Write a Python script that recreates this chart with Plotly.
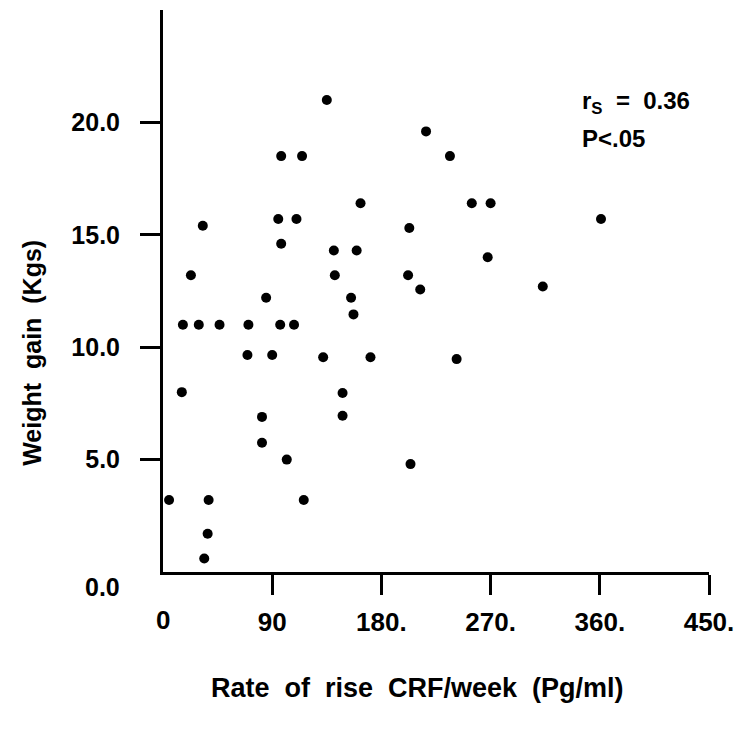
import plotly.graph_objects as go

# Data
crf_rate = [5, 37.6, 36.8, 34, 102, 116,
            23, 141.6, 85, 155,
            16.4, 29.5, 46.6, 70.4, 96.6, 108,
            69.6, 90, 132, 15.5, 148, 81.6, 148, 81.6,
            135, 97.4, 114.6, 32.8, 95, 110, 97.4, 140.8,
            216.8, 236.5, 162.8, 254.5, 270, 203, 159.6, 267.6,
            202, 212, 157, 171, 242, 204, 361, 313]
weight_gain = [3.2, 3.2, 1.7, 0.6, 5.0, 3.2,
               13.2, 13.2, 12.2, 12.2,
               11.0, 11.0, 11.0, 11.0, 11.0, 11.0,
               9.65, 9.65, 9.55, 8.0, 7.96, 6.9, 6.95, 5.75,
               21.0, 18.5, 18.5, 15.4, 15.7, 15.7, 14.6, 14.3,
               19.6, 18.5, 16.4, 16.4, 16.4, 15.3, 14.3, 14.0,
               13.2, 12.57, 11.46, 9.55, 9.47, 4.8, 15.7, 12.7]

x_tickvals = [90, 180, 270, 360, 450]
x_ticktext = ["90", "180.", "270.", "360.", "450."]
y_tickvals = [5, 10, 15, 20]
y_ticktext = ["5.0", "10.0", "15.0", "20.0"]
x_zero_label = "0"
y_zero_label = "0.0"
x_title = "Rate\u00a0\u00a0of\u00a0\u00a0rise\u00a0\u00a0CRF/week\u00a0\u00a0(Pg/ml)"
y_title = "Weight\u00a0\u00a0gain\u00a0\u00a0(Kgs)"
stat_r = "r<sub>S</sub>\u00a0\u00a0=\u00a0\u00a00.36"
stat_p = "P&lt;.05"

FONT = "Liberation Sans"

fig = go.Figure()
fig.add_trace(go.Scatter(
    x=crf_rate, y=weight_gain, mode="markers",
    marker=dict(size=10, color="black", line=dict(width=0)),
    showlegend=False, hoverinfo="skip"))

axis_common = dict(
    showline=True, linecolor="black", linewidth=3,
    ticks="outside", ticklen=20, tickwidth=3, tickcolor="black",
    showgrid=False, zeroline=False, mirror=False,
)

fig.update_layout(
    width=744, height=734,
    margin=dict(l=163, r=31, t=10, b=162),
    paper_bgcolor="white", plot_bgcolor="white",
    xaxis=dict(range=[0, 450], tickvals=x_tickvals, ticktext=x_ticktext,
               tickfont=dict(family=FONT, size=26, color="black", weight="bold"),
               ticklabelstandoff=5, **axis_common),
    yaxis=dict(range=[0, 25], tickvals=y_tickvals, ticktext=y_ticktext,
               tickfont=dict(family=FONT, size=25, color="black", weight="bold"),
               ticklabelstandoff=15, **axis_common),
    annotations=[
        dict(text=y_zero_label, xref="paper", yref="y", x=-0.076, y=0,
             xanchor="right", yanchor="middle", yshift=-15, showarrow=False,
             font=dict(family=FONT, size=25, color="black", weight="bold")),
        dict(text=x_zero_label, xref="x", yref="paper", x=0, y=0,
             xanchor="center", yanchor="middle", yshift=-48, showarrow=False,
             font=dict(family=FONT, size=26, color="black", weight="bold")),
        dict(text=x_title, xref="paper", yref="paper", x=0.467, y=-0.206,
             xanchor="center", yanchor="middle", showarrow=False,
             font=dict(family=FONT, size=27, color="black", weight="bold")),
        dict(text=y_title, xref="paper", yref="paper", x=-0.24, y=0.39,
             xanchor="center", yanchor="middle", textangle=-90, showarrow=False,
             font=dict(family=FONT, size=25, color="black", weight="bold")),
        dict(text=stat_r, xref="x", yref="y", x=344, y=20.9,
             xanchor="left", yanchor="middle", showarrow=False,
             font=dict(family=FONT, size=24, color="black", weight="bold")),
        dict(text=stat_p, xref="x", yref="y", x=344, y=19.27,
             xanchor="left", yanchor="middle", showarrow=False,
             font=dict(family=FONT, size=24, color="black", weight="bold")),
    ],
)

fig.write_html("out.html")
